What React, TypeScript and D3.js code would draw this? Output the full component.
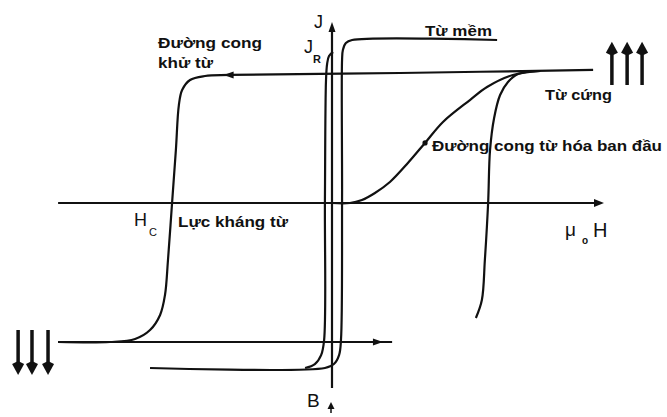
import React from "react";
import * as d3 from "d3";

const W = 667;
const HT = 417;

// Normalised field H (x) and polarisation J (y)
// Hard magnet: descending branch (top plateau -> left knee -> bottom left)
const hardDescH = [0.96, 0.25, -0.375, -0.467, -0.522, -0.551, -0.563, -0.574, -0.588, -0.603, -0.614, -0.632, -0.669, -0.724, -0.816, -1.007];
const hardDescJ = [1.008, 0.985, 0.97, 0.962, 0.932, 0.856, 0.742, 0.4, 0, -0.432, -0.697, -0.848, -0.962, -1.03, -1.053, -1.053];

// Hard magnet: bottom return line
const hardBottomH = [-1.007, 0.221];
const hardBottomJ = [-1.053, -1.053];

// Hard magnet: ascending branch (right knee)
const hardAscH = [0.529, 0.551, 0.562, 0.574, 0.581, 0.596, 0.618, 0.647, 0.684, 0.765];
const hardAscJ = [-0.871, -0.735, -0.432, 0, 0.4, 0.644, 0.818, 0.917, 0.977, 1.0];

// Initial magnetisation curve
const initH = [0, 0.066, 0.11, 0.158, 0.213, 0.279, 0.342, 0.408, 0.507, 0.57, 0.665, 0.765];
const initJ = [0, 0, 0.023, 0.076, 0.159, 0.303, 0.455, 0.614, 0.78, 0.879, 0.97, 1.0];

// Soft magnet: ascending branch with top and bottom plateaus
const softAH = [0.607, 0.074, 0.051, 0.04, 0.037, 0.037, 0.033, 0.026, 0.007, -0.026, -0.669];
const softAJ = [1.235, 1.235, 1.212, 1.159, 1.083, 0.023, -1.038, -1.152, -1.22, -1.25, -1.25];

// Soft magnet: descending branch from remanence J_R
const softBH = [0.004, -0.011, -0.018, -0.022, -0.026, -0.029, -0.04, -0.063, -0.099];
const softBJ = [1.144, 1.114, 1.053, 0.932, 0.023, -1.038, -1.152, -1.22, -1.25];

// Axes extents
const hAxisH = [-1.007, 1.0];
const jAxisJ = [-1.402, 1.371];

// Direction markers on the hard loop
const flowH = [-0.38, 0.169];
const flowJ = [0.97, -1.053];
const flowDir = [-1, 1];

// Point marker on initial curve
const initMarkH = 0.342;
const initMarkJ = 0.455;

// Saturation direction arrows
const upArrowsH = [1.029, 1.085, 1.14];
const upArrowsJ = [0.894, 1.222];
const downArrowsH = [-1.154, -1.103, -1.044];
const downArrowsJ = [-0.962, -1.303];

const zip = (a: number[], b: number[]): [number, number][] => a.map((v, i) => [v, b[i]]);

export default function App() {
  const x = d3.scaleLinear().domain([-1, 1]).range([60, 604]);
  const y = d3.scaleLinear().domain([-1, 1]).range([335, 71]);

  const smooth = d3
    .line<[number, number]>()
    .x((d) => x(d[0]))
    .y((d) => y(d[1]))
    .curve(d3.curveCatmullRom.alpha(0.5));
  const straight = d3
    .line<[number, number]>()
    .x((d) => x(d[0]))
    .y((d) => y(d[1]));

  const stroke = "#111";
  const lw = 2.2;
  const font = "'Liberation Sans', Arial, sans-serif";

  const x0 = x(0);
  const y0 = y(0);

  const bigArrow = (px: number, yTail: number, yTip: number, key: string) => {
    const dir = yTip < yTail ? -1 : 1;
    const headLen = 13;
    const headW = 6;
    const base = yTip - dir * headLen;
    return (
      <g key={key}>
        <line x1={px} y1={yTail} x2={px} y2={base} stroke={stroke} strokeWidth={3.5} />
        <path d={`M${px},${yTip} L${px - headW},${base + dir * 2} L${px},${base - dir * 1} L${px + headW},${base + dir * 2} Z`} fill={stroke} />
      </g>
    );
  };

  return (
    <svg
      width={W}
      height={HT}
      viewBox={`0 0 ${W} ${HT}`}
      style={{ position: "absolute", left: 0, top: 0, background: "#fff" }}
    >
      <rect width={W} height={HT} fill="#fff" />

      {/* Axes */}
      <line x1={x(hAxisH[0])} y1={y0} x2={x(hAxisH[1]) - 6} y2={y0} stroke={stroke} strokeWidth={lw} />
      <path d={`M${x(hAxisH[1])},${y0} L${x(hAxisH[1]) - 10},${y0 - 4} L${x(hAxisH[1]) - 10},${y0 + 4} Z`} fill={stroke} />
      <line x1={x0} y1={y(jAxisJ[0])} x2={x0} y2={y(jAxisJ[1]) + 6} stroke={stroke} strokeWidth={lw} />
      <path d={`M${x0},${y(jAxisJ[1])} L${x0 - 3.5},${y(jAxisJ[1]) + 10} L${x0 + 3.5},${y(jAxisJ[1]) + 10} Z`} fill={stroke} />

      {/* Hard magnet loop */}
      <path d={smooth(zip(hardDescH, hardDescJ)) ?? ""} fill="none" stroke={stroke} strokeWidth={lw} />
      <path d={straight(zip(hardBottomH, hardBottomJ)) ?? ""} fill="none" stroke={stroke} strokeWidth={lw} />
      <path d={smooth(zip(hardAscH, hardAscJ)) ?? ""} fill="none" stroke={stroke} strokeWidth={lw} />

      {/* Initial magnetisation curve */}
      <path d={smooth(zip(initH, initJ)) ?? ""} fill="none" stroke={stroke} strokeWidth={lw} />
      <circle cx={x(initMarkH)} cy={y(initMarkJ)} r={2.6} fill={stroke} />

      {/* Soft magnet loop */}
      <path d={smooth(zip(softAH, softAJ)) ?? ""} fill="none" stroke={stroke} strokeWidth={lw} />
      <path d={smooth(zip(softBH, softBJ)) ?? ""} fill="none" stroke={stroke} strokeWidth={lw} />

      {/* Flow direction markers */}
      {flowH.map((h, i) => {
        const px = x(h);
        const py = y(flowJ[i]);
        const d = flowDir[i];
        return (
          <path
            key={`flow-${i}`}
            d={`M${px + d * 5},${py} L${px - d * 5},${py - 3.5} L${px - d * 5},${py + 3.5} Z`}
            fill={stroke}
          />
        );
      })}

      {/* Saturation direction arrows */}
      {upArrowsH.map((h, i) => bigArrow(x(h), y(upArrowsJ[0]), y(upArrowsJ[1]), `up-${i}`))}
      {downArrowsH.map((h, i) => bigArrow(x(h), y(downArrowsJ[0]), y(downArrowsJ[1]), `down-${i}`))}

      {/* Small marker under B */}
      <line x1={x0 - 1} y1={404} x2={x0 - 1} y2={413} stroke={stroke} strokeWidth={1.5} />
      <path d={`M${x0 - 1},${402} L${x0 - 4.5},${409} L${x0 + 2.5},${409} Z`} fill={stroke} />

      {/* Labels */}
      <g fill="#111" fontFamily={font}>
        <text x={158} y={48} fontSize={15} fontWeight="bold" textLength={104} lengthAdjust="spacingAndGlyphs">
          Đường cong
        </text>
        <text x={158} y={68} fontSize={15} fontWeight="bold" textLength={55} lengthAdjust="spacingAndGlyphs">
          khử từ
        </text>
        <text x={425} y={36} fontSize={14} fontWeight="bold" textLength={67} lengthAdjust="spacingAndGlyphs">
          Từ mềm
        </text>
        <text x={545} y={100} fontSize={14} fontWeight="bold" textLength={67} lengthAdjust="spacingAndGlyphs">
          Từ cứng
        </text>
        <text x={432} y={151} fontSize={14} fontWeight="bold" textLength={230} lengthAdjust="spacingAndGlyphs">
          Đường cong từ hóa ban đầu
        </text>
        <text x={178} y={227} fontSize={14} fontWeight="bold" textLength={110} lengthAdjust="spacingAndGlyphs">
          Lực kháng từ
        </text>

        <text x={314} y={28} fontSize={18}>J</text>
        <text x={304} y={53} fontSize={18}>J</text>
        <text x={313} y={63} fontSize={11} fontWeight="bold">R</text>

        <text x={134} y={226} fontSize={18}>H</text>
        <text x={149} y={236} fontSize={11}>C</text>

        <text x={565} y={236} fontSize={19}>μ</text>
        <text x={582} y={244} fontSize={10} fontWeight="bold">o</text>
        <text x={593} y={237} fontSize={20}>H</text>

        <text x={307} y={407} fontSize={19}>B</text>
      </g>
    </svg>
  );
}
